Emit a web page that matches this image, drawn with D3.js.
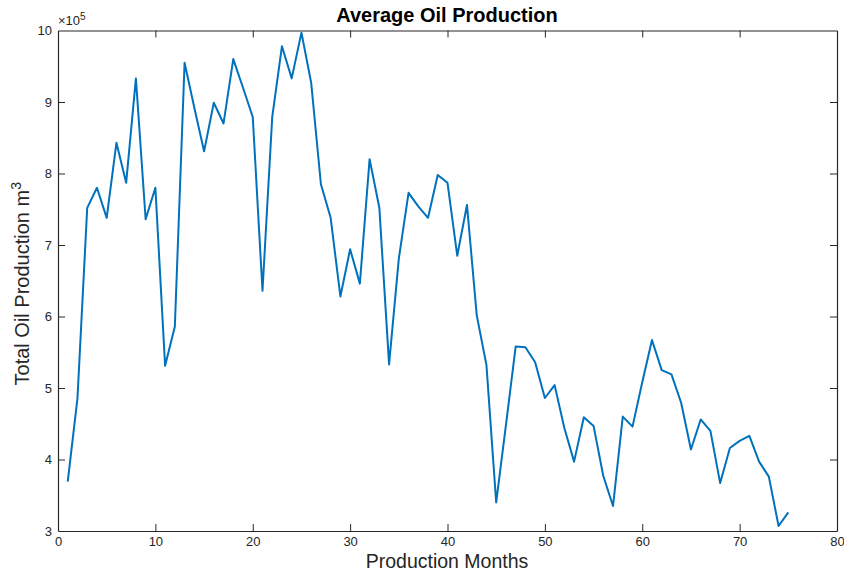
<!DOCTYPE html>
<html>
<head>
<meta charset="utf-8">
<script src="https://cdn.jsdelivr.net/npm/d3@7"></script>
<style>
  html, body { margin: 0; padding: 0; background: #fff; }
  svg { display: block; font-family: "Liberation Sans", Arial, Helvetica, sans-serif; }
</style>
</head>
<body>
<svg id="chart" width="844" height="573"></svg>
<script>
// Monthly average oil production (units of 1e5 m^3)
const months = d3.range(1, 76);
const production = [
  3.69, 4.86, 7.52, 7.80, 7.38, 8.43, 7.87, 9.33, 7.36, 7.80,
  5.31, 5.86, 9.55, 8.92, 8.31, 8.99, 8.70, 9.60, 9.20, 8.79,
  6.36, 8.79, 9.78, 9.33, 9.97, 9.27, 7.85, 7.38, 6.28, 6.94,
  6.46, 8.20, 7.52, 5.33, 6.81, 7.73, 7.54, 7.38, 7.98, 7.87,
  6.85, 7.56, 6.02, 5.32, 3.40, 4.48, 5.58, 5.57, 5.36, 4.86,
  5.04, 4.44, 3.97, 4.59, 4.47, 3.77, 3.35, 4.60, 4.46, 5.08,
  5.67, 5.25, 5.19, 4.79, 4.14, 4.56, 4.40, 3.67, 4.16, 4.26,
  4.33, 3.97, 3.76, 3.07, 3.26
];
const xTicks = [0, 10, 20, 30, 40, 50, 60, 70, 80];
const yTicks = [3, 4, 5, 6, 7, 8, 9, 10];

const svg = d3.select("#chart");
const plotLeft = 58, plotRight = 837, plotTop = 30.5, plotBottom = 531;
const axisColor = "#262626";
const tickLen = 7;

const x = d3.scaleLinear().domain([0, 80]).range([plotLeft, plotRight]);
const y = d3.scaleLinear().domain([3, 10]).range([plotBottom, plotTop]);

// Bottom axis with labels, ticks pointing inward
const gx = svg.append("g").attr("transform", `translate(0,${plotBottom})`)
  .call(d3.axisBottom(x).tickValues(xTicks).tickFormat(d3.format("d"))
    .tickSizeInner(-tickLen).tickSizeOuter(0).tickPadding(6));
// Left axis with labels
const gy = svg.append("g").attr("transform", `translate(${plotLeft},0)`)
  .call(d3.axisLeft(y).tickValues(yTicks).tickFormat(d3.format("d"))
    .tickSizeInner(-tickLen).tickSizeOuter(0).tickPadding(6));
// Top and right axes: ticks only
const gxt = svg.append("g").attr("transform", `translate(0,${plotTop})`)
  .call(d3.axisTop(x).tickValues(xTicks).tickSizeInner(-tickLen).tickSizeOuter(0).tickFormat(""));
const gyr = svg.append("g").attr("transform", `translate(${plotRight},0)`)
  .call(d3.axisRight(y).tickValues(yTicks).tickSizeInner(-tickLen).tickSizeOuter(0).tickFormat(""));

[gx, gy, gxt, gyr].forEach(g => {
  g.select(".domain").attr("stroke", axisColor).attr("stroke-width", 1.2);
  g.selectAll(".tick line").attr("stroke", axisColor).attr("stroke-width", 1);
  g.selectAll(".tick text").attr("fill", axisColor).attr("font-size", 13)
    .attr("font-family", "Liberation Sans, Arial, sans-serif");
});
// hide ticks that overlap the frame corners
[gx, gxt].forEach(g => g.selectAll(".tick").filter(d => d === 0 || d === 80).select("line").remove());
[gy, gyr].forEach(g => g.selectAll(".tick").filter(d => d === 3 || d === 10).select("line").remove());

// Exponent marker for the y axis
const expo = svg.append("text").attr("x", plotLeft).attr("y", plotTop - 6)
  .attr("font-size", 13).attr("fill", axisColor);
expo.append("tspan").text("\u00d710");
expo.append("tspan").attr("dy", -5).attr("font-size", 10).text("5");

// Data line
const line = d3.line().x((d, i) => x(months[i])).y(d => y(d));
svg.append("path").datum(production)
  .attr("d", line)
  .attr("fill", "none")
  .attr("stroke", "#0072BD")
  .attr("stroke-width", 2)
  .attr("stroke-linejoin", "round");

// Title
svg.append("text").attr("x", 447).attr("y", 22)
  .attr("text-anchor", "middle").attr("font-size", 20).attr("font-weight", "bold")
  .attr("fill", "#000").text("Average Oil Production");

// Axis labels
svg.append("text").attr("x", 447).attr("y", 568)
  .attr("text-anchor", "middle").attr("font-size", 19.5).attr("fill", axisColor)
  .text("Production Months");

const yl = svg.append("text")
  .attr("transform", `translate(29,${(plotTop + plotBottom) / 2 + 3}) rotate(-90)`)
  .attr("text-anchor", "middle").attr("font-size", 20).attr("fill", axisColor);
yl.append("tspan").text("Total Oil Production m");
yl.append("tspan").attr("dy", -8).attr("font-size", 14).text("3");
</script>
</body>
</html>
